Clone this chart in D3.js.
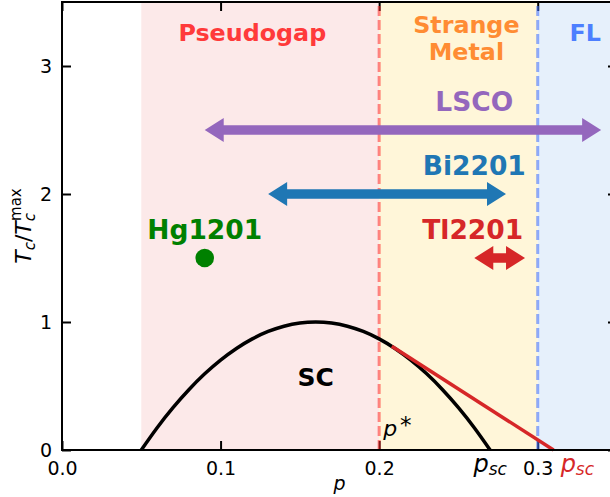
<!DOCTYPE html>
<html>
<head>
<meta charset="utf-8">
<script src="https://cdn.jsdelivr.net/npm/d3@7"></script>
<style>
  body { margin: 0; background: #fff; }
  svg { display: block; font-family: "DejaVu Sans", sans-serif; }
</style>
</head>
<body>
<div id="chart"></div>
<script>
// phase regions along the doping axis
const regionNames = ["Pseudogap", "Strange Metal", "FL"];
const regionStart = [0.05, 0.2, 0.3];
const regionEnd = [0.2, 0.3, 0.35];
const regionFill = ["#fce9e9", "#fff6d9", "#e6f0fb"];
const regionText = ["#ff3a3a", "#ff8c33", "#4d7fff"];
const regionLabelP = [0.12, 0.255, 0.33];
const regionLabelY = [3.195, 3.255, 3.195];

// boundaries p* and the FL onset
const boundaryP = [0.2, 0.3];
const boundaryColor = ["#ff2a2a", "#3a6cff"];

// superconducting dome
const domeP  = [0.05, 0.06, 0.07, 0.08, 0.09, 0.10, 0.11, 0.12, 0.13, 0.14, 0.15, 0.16,
                0.17, 0.18, 0.19, 0.20, 0.21, 0.22, 0.23, 0.24, 0.25, 0.26, 0.27];
const domeTc = [0.000, 0.174, 0.331, 0.471, 0.595, 0.702, 0.793, 0.868, 0.926, 0.967, 0.992, 1.000,
                0.992, 0.967, 0.926, 0.868, 0.793, 0.702, 0.595, 0.471, 0.331, 0.174, 0.000];

// Tl2201 linear extension of the overdoped side
const tlLineP = [0.208, 0.31];
const tlLineTc = [0.81, 0.0];

// doping ranges of the materials (arrows)
const arrowNames = ["LSCO", "Bi2201", "Tl2201"];
const arrowFrom = [0.09, 0.13, 0.26];
const arrowTo = [0.34, 0.28, 0.292];
const arrowY = [2.5, 2.0, 1.5];
const arrowColor = ["#9467bd", "#1f77b4", "#d62728"];
const arrowLabelP = [0.26, 0.26, 0.259];
const arrowLabelY = [2.645, 2.15, 1.65];

// Hg1201 single doping
const hgP = 0.09, hgY = 1.5;
const hgLabelY = 1.65;

const xTicks = [0.0, 0.1, 0.2, 0.3];
const yTicks = [0, 1, 2, 3];

const width = 610, height = 497;
const margin = {top: 2, right: -7, bottom: 47, left: 62};

const svg = d3.select("#chart").append("svg")
    .attr("width", width)
    .attr("height", height);

const x = d3.scaleLinear().domain([0, 0.35]).range([margin.left, width - margin.right]);
const y = d3.scaleLinear().domain([0, 3.5]).range([height - margin.bottom, margin.top]);

// backgrounds
svg.selectAll(".region").data(regionNames).enter().append("rect")
    .attr("x", (d, i) => x(regionStart[i]))
    .attr("y", y(3.5))
    .attr("width", (d, i) => x(regionEnd[i]) - x(regionStart[i]))
    .attr("height", y(0) - y(3.5))
    .attr("fill", (d, i) => regionFill[i]);

// axes (ticks point inward)
const tk = 9;
svg.append("g")
    .attr("transform", "translate(0," + y(0) + ")")
    .call(d3.axisBottom(x).tickValues(xTicks).tickFormat(d3.format(".1f")).tickSizeInner(-tk).tickSizeOuter(0).tickPadding(12))
    .call(g => g.select(".domain").remove());
svg.append("g")
    .attr("transform", "translate(0," + y(3.5) + ")")
    .call(d3.axisTop(x).tickValues(xTicks).tickFormat("").tickSizeInner(-tk).tickSizeOuter(0))
    .call(g => g.select(".domain").remove());
svg.append("g")
    .attr("transform", "translate(" + x(0) + ",0)")
    .call(d3.axisLeft(y).tickValues(yTicks).tickFormat(d3.format("d")).tickSizeInner(-tk).tickSizeOuter(0).tickPadding(10))
    .call(g => g.select(".domain").remove());
svg.append("g")
    .attr("transform", "translate(" + x(0.35) + ",0)")
    .call(d3.axisRight(y).tickValues(yTicks).tickFormat("").tickSizeInner(-tk).tickSizeOuter(0))
    .call(g => g.select(".domain").remove());

svg.selectAll(".tick line").attr("stroke", "#000").attr("stroke-width", 2);
svg.selectAll(".tick text")
    .style("font-size", "19px")
    .style("font-family", "'DejaVu Sans'")
    .attr("fill", "#000");

// dashed boundaries
svg.selectAll(".boundary").data(boundaryP).enter().append("line")
    .attr("x1", d => x(d)).attr("x2", d => x(d))
    .attr("y1", y(0)).attr("y2", y(3.5))
    .attr("stroke", (d, i) => boundaryColor[i])
    .attr("stroke-opacity", 0.55)
    .attr("stroke-width", 3)
    .attr("stroke-dasharray", "10,4");

// dome
const line = d3.line().x(d => x(d[0])).y(d => y(d[1])).curve(d3.curveNatural);
svg.append("path")
    .datum(domeP.map((p, i) => [p, domeTc[i]]))
    .attr("d", line)
    .attr("fill", "none")
    .attr("stroke", "#000")
    .attr("stroke-width", 3.5);

svg.append("path")
    .datum(tlLineP.map((p, i) => [p, tlLineTc[i]]))
    .attr("d", d3.line().x(d => x(d[0])).y(d => y(d[1])))
    .attr("fill", "none")
    .attr("stroke", "#d62728")
    .attr("stroke-width", 3.5);

// double arrows
const hl = 19, hh = 12, sw = 4.8;
function arrowPath(x1, x2, yy) {
  return "M" + x1 + "," + yy +
    "L" + (x1 + hl) + "," + (yy - hh) +
    "L" + (x1 + hl) + "," + (yy - sw) +
    "L" + (x2 - hl) + "," + (yy - sw) +
    "L" + (x2 - hl) + "," + (yy - hh) +
    "L" + x2 + "," + yy +
    "L" + (x2 - hl) + "," + (yy + hh) +
    "L" + (x2 - hl) + "," + (yy + sw) +
    "L" + (x1 + hl) + "," + (yy + sw) +
    "L" + (x1 + hl) + "," + (yy + hh) + "Z";
}
svg.selectAll(".arrow").data(arrowNames).enter().append("path")
    .attr("d", (d, i) => arrowPath(x(arrowFrom[i]), x(arrowTo[i]), y(arrowY[i])))
    .attr("fill", (d, i) => arrowColor[i]);

svg.selectAll(".arrowLabel").data(arrowNames).enter().append("text")
    .attr("x", (d, i) => x(arrowLabelP[i]))
    .attr("y", (d, i) => y(arrowLabelY[i]))
    .attr("text-anchor", "middle")
    .attr("font-size", 26.5)
    .attr("font-weight", "bold")
    .attr("fill", (d, i) => arrowColor[i])
    .text(d => d);

// Hg1201
svg.append("circle")
    .attr("cx", x(hgP)).attr("cy", y(hgY)).attr("r", 9.3)
    .attr("fill", "#008000");
svg.append("text")
    .attr("x", x(hgP)).attr("y", y(hgLabelY))
    .attr("text-anchor", "middle")
    .attr("font-size", 26.5).attr("font-weight", "bold")
    .attr("fill", "#008000")
    .text("Hg1201");

// region labels
regionNames.forEach((name, i) => {
  const t = svg.append("text")
      .attr("x", x(regionLabelP[i]))
      .attr("y", y(regionLabelY[i]))
      .attr("text-anchor", "middle")
      .attr("font-size", 23.8).attr("font-weight", "bold")
      .attr("fill", regionText[i]);
  const parts = name === "Strange Metal" ? ["Strange", "Metal"] : [name];
  parts.forEach((s, j) => {
    t.append("tspan").attr("x", x(regionLabelP[i])).attr("dy", j ? 27 : 0).text(s);
  });
});

// SC
svg.append("text")
    .attr("x", x(0.16)).attr("y", y(0.5))
    .attr("text-anchor", "middle")
    .attr("font-size", 25).attr("font-weight", "bold")
    .text("SC");

// p*
const pstar = svg.append("text")
    .attr("x", x(0.2) + 4).attr("y", y(0.108))
    .attr("font-size", 22);
pstar.append("tspan").attr("font-style", "italic").text("p");
pstar.append("tspan").attr("dx", 3).attr("dy", -3).attr("font-size", 23).text("*");

// p_sc labels
const pscP = [0.27, 0.325];
const pscColor = ["#000", "#d62728"];
pscP.forEach((p, i) => {
  const t = svg.append("text")
      .attr("x", x(p)).attr("y", 472)
      .attr("text-anchor", "middle")
      .attr("font-style", "italic")
      .attr("fill", pscColor[i])
      .attr("font-size", 24);
  t.append("tspan").text("p");
  t.append("tspan").attr("font-size", 17).attr("dy", 3).text("sc");
});

// axis labels
svg.append("text")
    .attr("x", x(0.175)).attr("y", 490)
    .attr("text-anchor", "middle")
    .attr("font-size", 19).attr("font-style", "italic")
    .text("p");

const yl = svg.append("text")
    .attr("transform", "translate(31," + ((y(0) + y(3.5)) / 2) + ") rotate(-90)")
    .attr("text-anchor", "middle")
    .attr("font-size", 22);
yl.append("tspan").attr("font-style", "italic").text("T");
yl.append("tspan").attr("font-style", "italic").attr("font-size", 15).attr("dy", 4).text("c");
yl.append("tspan").attr("dy", -4).text("/");
yl.append("tspan").attr("font-style", "italic").text("T");
yl.append("tspan").attr("font-style", "italic").attr("font-size", 15).attr("dy", 4).text("c");
yl.append("tspan").attr("font-size", 15).attr("dx", -8).attr("dy", -14).text("max");

// frame
svg.append("rect")
    .attr("x", x(0)).attr("y", y(3.5))
    .attr("width", x(0.35) - x(0)).attr("height", y(0) - y(3.5))
    .attr("fill", "none")
    .attr("stroke", "#000")
    .attr("stroke-width", 2);
</script>
</body>
</html>
